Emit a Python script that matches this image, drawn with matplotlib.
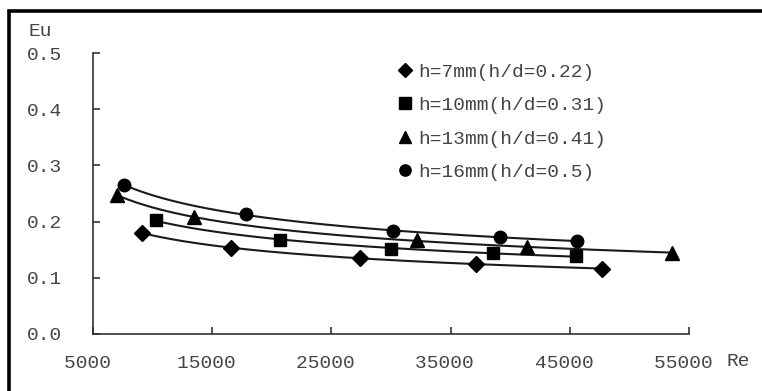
import numpy as np
import matplotlib
matplotlib.use("Agg")
import matplotlib.pyplot as plt
from matplotlib.patches import Rectangle

# ---- data ----
re_7 = [9100, 16550, 27430, 37130, 47680]
eu_7 = [0.180, 0.153, 0.135, 0.125, 0.116]
re_10 = [10270, 20650, 30020, 38560, 45500]
eu_10 = [0.203, 0.167, 0.151, 0.144, 0.139]
re_13 = [7000, 13450, 32200, 41400, 53540]
eu_13 = [0.247, 0.208, 0.167, 0.155, 0.144]
re_16 = [7600, 17800, 30190, 39140, 45590]
eu_16 = [0.265, 0.213, 0.183, 0.173, 0.165]

labels = ["h=7mm(h/d=0.22)", "h=10mm(h/d=0.31)", "h=13mm(h/d=0.41)", "h=16mm(h/d=0.5)"]
markers = ["D", "s", "^", "o"]
msizes = [8, 9, 10, 9]

x_ticks = [5000, 15000, 25000, 35000, 45000, 55000]
y_ticks = [0.0, 0.1, 0.2, 0.3, 0.4, 0.5]

FONT = "Liberation Mono"
TCOL = "#454545"
FS = 14

W, H = 762, 391
fig = plt.figure(figsize=(W / 100, H / 100), dpi=100)
fig.patch.set_facecolor("white")
ax = fig.add_axes([93 / W, 57 / H, (689 - 93) / W, (334 - 53) / H])

series = [(re_7, eu_7), (re_10, eu_10), (re_13, eu_13), (re_16, eu_16)]
handles = []
for (rx, ey), mk, ms, lab in zip(series, markers, msizes, labels):
    rx = np.asarray(rx, float)
    ey = np.asarray(ey, float)
    # power trend line fitted to the series (as in the original chart)
    b, loga = np.polyfit(np.log(rx), np.log(ey), 1)
    xx = np.linspace(rx.min(), rx.max(), 200)
    ax.plot(xx, np.exp(loga) * xx ** b, color="#1a1a1a", lw=1.5, zorder=2)
    h, = ax.plot(rx, ey, linestyle="none", marker=mk, markersize=ms,
                 color="black", markeredgecolor="black", zorder=3, label=lab)
    handles.append(h)

ax.set_xlim(5000, 55000)
ax.set_ylim(0, 0.5)
ax.set_xticks(x_ticks)
ax.set_xticklabels([f"{v} " for v in x_ticks])
ax.set_yticks(y_ticks)
ax.set_yticklabels([f"{v:.1f}" for v in y_ticks])

for s in ["top", "right"]:
    ax.spines[s].set_visible(False)
for s in ["left", "bottom"]:
    ax.spines[s].set_color("#333333")
    ax.spines[s].set_linewidth(1.2)

ax.tick_params(axis="both", direction="in", length=5, width=1.2, color="#333333",
               labelcolor=TCOL, labelsize=FS)
ax.tick_params(axis="y", pad=22)
ax.tick_params(axis="x", pad=15)
for t in ax.get_xticklabels() + ax.get_yticklabels():
    t.set_fontfamily(FONT)

fig.text(28 / W, 1 - 31 / H, "Eu", ha="left", va="center", fontsize=FS,
         family=FONT, color=TCOL)
fig.text(727 / W, 1 - 362 / H, "Re", ha="left", va="center", fontsize=FS,
         family=FONT, color=TCOL)

leg = ax.legend(handles=handles, loc="upper left",
                bbox_to_anchor=(397 / W, 1 - 63 / H), bbox_transform=fig.transFigure,
                frameon=False, borderpad=0, borderaxespad=0, handlelength=0.8,
                handletextpad=0.3, labelspacing=0.82, markerscale=0.9,
                prop={"family": FONT, "size": FS})
for t in leg.get_texts():
    t.set_color(TCOL)

# outer frame of the figure (left and top edges visible)
fig.add_artist(Rectangle((8.5 / W, -0.2), 1.5, (H - 11.5) / H + 0.2,
                         transform=fig.transFigure, fill=False,
                         edgecolor="black", linewidth=2.6, clip_on=False))

fig.savefig("out.png", dpi=100, facecolor="white")
